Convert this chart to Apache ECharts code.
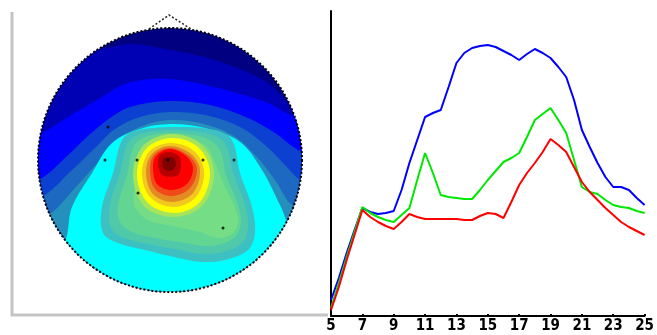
<!DOCTYPE html>
<html>
<head>
<meta charset="utf-8">
<script src="https://cdn.jsdelivr.net/npm/echarts@6/dist/echarts.min.js"></script>
<style>
  html, body { margin: 0; padding: 0; background: #fff; }
  #main { width: 657px; height: 335px; }
</style>
</head>
<body>
<div id="main"></div>
<script>
// spectrum (right panel)
const freqs = [5, 5.5, 6, 6.5, 7, 7.5, 8, 8.5, 9, 9.5, 10, 10.5, 11, 11.5, 12, 12.5, 13, 13.5, 14, 14.5, 15,
  15.5, 16, 16.5, 17, 17.5, 18, 18.5, 19, 19.5, 20, 20.5, 21, 21.5, 22, 22.5, 23, 23.5, 24, 24.5, 25]
const blueVals = [16, 38, 63, 86, 108, 104, 102, 103, 105, 126, 153, 176, 199, 203, 206, 229, 253, 263, 268, 270, 271,
  269, 265, 261, 256, 262, 267, 263, 258, 249, 239, 216, 186, 169, 153, 139, 129, 129, 126, 118, 111]
const greenVals = [8, 33, 59, 84, 109, 103, 99, 96, 94, 101, 108, 136, 163, 143, 121, 119, 118, 117, 117, 126, 136,
  145, 154, 158, 163, 179, 196, 202, 208, 196, 183, 156, 129, 124, 122, 116, 111, 109, 108, 105, 103]
const redVals = [6, 29, 56, 81, 106, 99, 94, 90, 87, 94, 102, 99, 97, 97, 97, 97, 97, 96, 96, 100, 103,
  102, 98, 114, 131, 143, 153, 164, 177, 171, 164, 149, 134, 124, 116, 108, 101, 94, 89, 85, 81]
const xTicks = [5, 7, 9, 11, 13, 15, 17, 19, 21, 23, 25]

// scalp map (left panel), head space units
const headCenter = [170, 160]
const headRadius = 132
const noseOutline = [[149, 29], [169, 15], [191, 29]]
const electrodes = [[108, 127], [105, 160], [137, 160], [168, 160], [203, 160], [234, 160], [138, 193], [223, 228]]

// contour levels, lowest first; each outline is the region at or above that level
const bandColors = ['#000080', '#0000b4', '#0000ff', '#0b40d0', '#1d68c0', '#2590bc', '#00ffff',
  '#3ec0c2', '#4fc9aa', '#62d592', '#74dd86', '#a6e45a', '#ffff00', '#f2c81e', '#e48a24', '#f04a18',
  '#ff0000', '#b80000', '#800000']
const bandOutlines = [
  [[20, 10], [320, 10], [320, 310], [20, 310]],
  [[20, 48], [95, 50], [130, 44], [170, 50], [200, 56], [235, 67], [268, 83], [288, 103], [305, 118], [320, 122], [320, 310], [20, 310]],
  [[20, 138], [40, 134], [68, 117], [102, 97], [128, 83], [168, 79], [218, 88], [268, 103], [290, 115], [320, 124], [320, 310], [20, 310]],
  [[20, 185], [42, 178], [65, 158], [88, 136], [110, 118], [130, 107], [168, 101], [210, 105], [248, 118], [275, 133], [298, 150], [320, 158], [320, 310], [20, 310]],
  [[20, 205], [45, 195], [70, 172], [95, 148], [115, 129], [140, 117], [170, 112], [205, 115], [240, 127], [265, 145], [285, 165], [300, 180], [320, 188], [320, 310], [20, 310]],
  [[20, 228], [50, 214], [75, 188], [100, 160], [120, 138], [145, 125], [170, 120], [200, 123], [232, 135], [255, 155], [275, 180], [292, 205], [320, 215], [320, 310], [20, 310]],
  [[20, 255], [62, 245], [72, 207], [92, 173], [112, 143], [140, 129], [170, 124], [205, 128], [240, 142], [262, 170], [280, 205], [296, 238], [320, 245], [320, 310], [20, 310]],
  [[122, 140], [113, 173], [102, 207], [103, 233], [118, 243], [145, 250], [178, 258], [202, 262], [225, 260], [248, 250], [255, 233], [252, 207], [240, 173], [232, 140], [215, 130], [170, 127], [135, 131]],
  [[128, 143], [120, 173], [110, 205], [111, 228], [124, 238], [148, 244], [180, 250], [203, 254], [223, 252], [242, 243], [248, 228], [245, 205], [233, 173], [226, 145], [210, 134], [170, 130], [140, 134]],
  [[134, 146], [127, 175], [118, 205], [120, 222], [132, 232], [155, 238], [185, 243], [205, 246], [222, 244], [236, 236], [241, 222], [238, 205], [226, 175], [220, 150], [205, 138], [170, 133], [145, 137]],
  [[140, 150], [136, 180], [134, 205], [148, 220], [172, 226], [200, 232], [218, 238], [232, 234], [238, 222], [234, 205], [224, 185], [214, 160], [205, 145], [170, 135], [148, 142]],
  [[171, 134], [201, 144], [214, 172], [203, 205], [175, 217], [145, 207], [133, 176], [143, 146]],
  [[171, 138], [198, 147], [210, 172], [200, 202], [175, 213], [148, 203], [137, 176], [146, 149]],
  [[170, 143], [194, 151], [204, 172], [196, 197], [174, 207], [151, 198], [142, 175], [149, 152]],
  [[170, 146], [191, 154], [200, 170], [193, 193], [173, 202], [153, 194], [146, 173], [152, 154]],
  [[170, 148], [189, 156], [197, 169], [190, 188], [172, 196], [155, 189], [150, 170], [154, 155]],
  [[170, 149], [186, 156], [193, 168], [187, 184], [171, 190], [157, 184], [153, 168], [156, 156]],
  [[169, 152], [178, 155], [181, 162], [179, 174], [171, 177], [161, 174], [158, 164], [160, 155]],
  [[169, 157], [174, 158], [176, 164], [174, 169], [169, 171], [164, 169], [162, 164], [164, 158]]
]

const chart = echarts.init(document.getElementById('main'))

function headClip (api) {
  const c = api.coord(headCenter)
  const r = api.size([headRadius, 0])[0]
  return { type: 'circle', shape: { cx: c[0], cy: c[1], r: r } }
}

const toPairs = (vals) => freqs.map((f, i) => [f, vals[i]])

const option = {
  animation: false,
  backgroundColor: '#fff',
  graphic: [{
    type: 'polyline',
    shape: { points: [[12, 12], [12, 315], [328, 315]] },
    style: { stroke: '#c4c4c4', lineWidth: 3, fill: null },
    z: 10
  }],
  grid: [
    { left: 38, top: 28, width: 264, height: 264 },
    { left: 331, top: 11, right: 11, bottom: 19 }
  ],
  xAxis: [
    { gridIndex: 0, type: 'value', min: 38, max: 302, show: false },
    {
      gridIndex: 1,
      type: 'value',
      min: 5,
      max: 25,
      interval: 2,
      axisLine: { onZero: false, lineStyle: { color: '#000', width: 2 } },
      axisTick: { show: true, inside: true, length: 2, lineStyle: { color: '#000', width: 2 } },
      axisLabel: {
        color: '#000',
        fontSize: 15,
        fontWeight: 'bold',
        fontFamily: "'DejaVu Sans Condensed', 'Liberation Sans Narrow', 'Liberation Sans', sans-serif",
        margin: 3,
        customValues: xTicks
      },
      splitLine: { show: false }
    }
  ],
  yAxis: [
    { gridIndex: 0, type: 'value', min: 28, max: 292, inverse: true, show: false },
    {
      gridIndex: 1,
      type: 'value',
      min: 0,
      max: 305,
      axisLine: { show: true, onZero: false, lineStyle: { color: '#000', width: 2 } },
      axisTick: { show: false },
      axisLabel: { show: false },
      splitLine: { show: false }
    }
  ],
  series: [
    {
      type: 'custom',
      xAxisIndex: 0,
      yAxisIndex: 0,
      data: bandOutlines.map((b, i) => [i]),
      renderItem: function (params, api) {
        const idx = api.value(0)
        const pts = bandOutlines[idx].map(p => api.coord(p))
        return {
          type: 'polygon',
          shape: { points: pts, smooth: idx === 0 ? 0 : 0.35 },
          style: { fill: bandColors[idx] },
          clipPath: headClip(api)
        }
      }
    },
    {
      type: 'scatter',
      xAxisIndex: 0,
      yAxisIndex: 0,
      data: electrodes,
      symbolSize: 3,
      itemStyle: { color: '#000' },
      z: 3
    },
    {
      type: 'custom',
      xAxisIndex: 0,
      yAxisIndex: 0,
      data: [[headCenter[0], headCenter[1]]],
      z: 4,
      renderItem: function (params, api) {
        const c = api.coord(headCenter)
        const r = api.size([headRadius, 0])[0]
        return {
          type: 'group',
          children: [
            {
              type: 'circle',
              shape: { cx: c[0], cy: c[1], r: r },
              style: { fill: null, stroke: '#000', lineWidth: 2, lineDash: [2, 2] }
            },
            {
              type: 'polyline',
              shape: { points: noseOutline.map(p => api.coord(p)) },
              style: { fill: null, stroke: '#222', lineWidth: 1.5, lineDash: [2, 2] }
            }
          ]
        }
      }
    },
    {
      type: 'line',
      xAxisIndex: 1,
      yAxisIndex: 1,
      data: toPairs(blueVals),
      showSymbol: false,
      lineStyle: { color: '#0000ff', width: 2 },
      itemStyle: { color: '#0000ff' }
    },
    {
      type: 'line',
      xAxisIndex: 1,
      yAxisIndex: 1,
      data: toPairs(greenVals),
      showSymbol: false,
      lineStyle: { color: '#00e800', width: 2 },
      itemStyle: { color: '#00e800' }
    },
    {
      type: 'line',
      xAxisIndex: 1,
      yAxisIndex: 1,
      data: toPairs(redVals),
      showSymbol: false,
      lineStyle: { color: '#ff0000', width: 2 },
      itemStyle: { color: '#ff0000' }
    }
  ]
}

chart.setOption(option)
</script>
</body>
</html>
